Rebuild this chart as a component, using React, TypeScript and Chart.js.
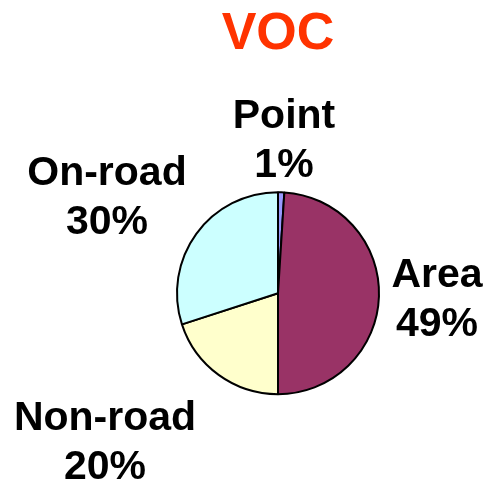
import React, { useEffect, useRef } from "react";
import { Chart, registerables } from "chart.js";

Chart.register(...registerables);

const categories = ["Point", "Area", "Non-road", "On-road"];
const values = [1, 49, 20, 30];
const sliceColors = ["#9999FF", "#993366", "#FFFFCC", "#CCFFFF"];
const titleText = "VOC";

// label placement relative to pie center: [dx, baseline dy of first line]
const labelOffsets: [number, number][] = [
  [6, -165],
  [159, -6],
  [-173, 137],
  [-171, -108],
];
const labelLineHeight = 49;

const FONT = "'Liberation Sans', Arial, sans-serif";

const labelPlugin = {
  id: "outsideLabels",
  afterDatasetsDraw(chart: any) {
    const meta = chart.getDatasetMeta(0);
    const data = chart.data.datasets[0].data as number[];
    const total = data.reduce((a, b) => a + b, 0);
    const ctx = chart.ctx;
    ctx.save();
    ctx.font = `bold 41px ${FONT}`;
    ctx.fillStyle = "#000000";
    ctx.textAlign = "center";
    ctx.textBaseline = "alphabetic";
    meta.data.forEach((arc: any, i: number) => {
      const [dx, dy] = labelOffsets[i];
      const x = arc.x + dx;
      const y = arc.y + dy;
      const pct = Math.round((data[i] / total) * 100) + "%";
      ctx.fillText(chart.data.labels[i], x, y);
      ctx.fillText(pct, x, y + labelLineHeight);
    });
    ctx.restore();
  },
};

export default function App() {
  const ref = useRef<HTMLCanvasElement | null>(null);
  useEffect(() => {
    if (!ref.current) return;
    const chart = new Chart(ref.current, {
      type: "pie",
      data: {
        labels: categories,
        datasets: [
          {
            data: values,
            backgroundColor: sliceColors,
            borderColor: "#000000",
            borderWidth: 2,
            radius: 101,
          } as any,
        ],
      },
      options: {
        animation: false,
        responsive: false,
        maintainAspectRatio: false,
        layout: { padding: { left: 73, right: 0, top: 0, bottom: 0 } },
        plugins: {
          legend: { display: false },
          tooltip: { enabled: false },
          title: {
            display: true,
            text: titleText,
            color: "#FF3300",
            font: { family: FONT, size: 52, weight: "bold" },
            padding: { top: 3, bottom: 39 },
          },
        },
      },
      plugins: [labelPlugin],
    });
    return () => chart.destroy();
  }, []);
  return (
    <div style={{ position: "absolute", left: 0, top: 0, width: 483, height: 482, background: "#fff" }}>
      <canvas ref={ref} width={483} height={482} style={{ display: "block" }} />
    </div>
  );
}
